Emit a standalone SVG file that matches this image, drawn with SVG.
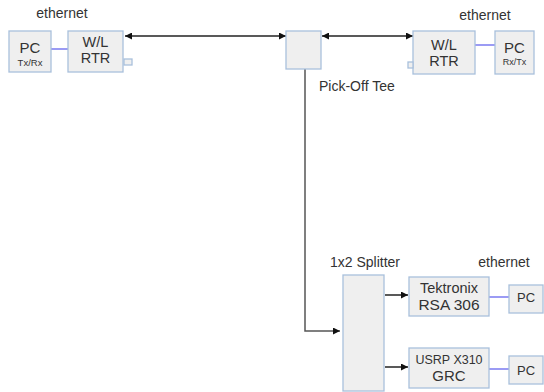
<svg xmlns="http://www.w3.org/2000/svg" width="544" height="392" viewBox="0 0 544 392">
<style>
.box{fill:#efefef;stroke:#a9c0dc;stroke-width:1.3}
.t{font-family:"Liberation Sans",Arial,sans-serif;fill:#333;text-anchor:middle}
.lbl{font-family:"Liberation Sans",Arial,sans-serif;fill:#333;font-size:14px}
.eth{stroke:#7a7af0;stroke-width:1.5;fill:none}
.wire{stroke:#222;stroke-width:1.5;fill:none}
.gray{stroke:#555;stroke-width:1.5;fill:none}
</style>
<defs>
<marker id="ah" viewBox="0 0 10 10" refX="10" refY="5" markerWidth="9" markerHeight="7" markerUnits="userSpaceOnUse" orient="auto-start-reverse">
<path d="M0,0 L10,5 L0,10 z" fill="#111"/>
</marker>
</defs>
<g id="connectors">
<line class="wire" x1="125" y1="36" x2="286" y2="36" marker-start="url(#ah)" marker-end="url(#ah)"/>
<line class="wire" x1="322" y1="36" x2="413" y2="36" marker-start="url(#ah)" marker-end="url(#ah)"/>
<polyline class="gray" points="305,69 305,331 340,331" marker-end="url(#ah)"/>
<line class="wire" x1="385" y1="295" x2="408" y2="295" marker-end="url(#ah)"/>
<line class="wire" x1="385" y1="367" x2="408" y2="367" marker-end="url(#ah)"/>
<line class="eth" x1="51" y1="49" x2="68" y2="49"/>
<line class="eth" x1="475" y1="45" x2="495" y2="45"/>
<line class="eth" x1="489" y1="297" x2="509" y2="297"/>
<line class="eth" x1="489" y1="369" x2="509" y2="369"/>
</g>
<g id="pc-left">
<rect class="box" x="9" y="31" width="42" height="41"/>
<text class="t" x="30" y="53" font-size="15">PC</text>
<text class="t" x="30" y="66" font-size="9.5">Tx/Rx</text>
</g>
<text class="lbl" x="62" y="18" text-anchor="middle">ethernet</text>
<g id="rtr-left">
<rect class="box" x="68" y="31" width="55" height="41"/>
<text class="t" x="95.5" y="47" font-size="14.5">W/L</text>
<text class="t" x="95.5" y="63" font-size="14.5">RTR</text>
<rect class="box" x="124" y="59" width="8" height="6" fill="#fff"/>
</g>
<g id="tee">
<rect class="box" x="286" y="31" width="35" height="38"/>
<text class="lbl" x="319" y="91" font-size="14.5">Pick-Off Tee</text>
</g>
<g id="rtr-right">
<rect class="box" x="413" y="31" width="62" height="43"/>
<text class="t" x="444" y="50" font-size="14.5">W/L</text>
<text class="t" x="444" y="66" font-size="14.5">RTR</text>
<rect class="box" x="408" y="62" width="5" height="6"/>
</g>
<text class="lbl" x="485" y="20" text-anchor="middle">ethernet</text>
<g id="pc-right">
<rect class="box" x="495" y="31" width="39" height="43"/>
<text class="t" x="514.5" y="53" font-size="15">PC</text>
<text class="t" x="514.5" y="65" font-size="9">Rx/Tx</text>
</g>
<g id="splitter">
<rect class="box" x="343" y="275" width="41" height="116"/>
<text class="lbl" x="330" y="267" font-size="14.5">1x2 Splitter</text>
</g>
<text class="lbl" x="504" y="267" text-anchor="middle">ethernet</text>
<g id="tektronix">
<rect class="box" x="409" y="277" width="80" height="39"/>
<text class="t" x="449" y="293" font-size="14.5">Tektronix</text>
<text class="t" x="449" y="310" font-size="15.5">RSA 306</text>
</g>
<g id="pc-tek">
<rect class="box" x="509" y="285" width="34" height="28"/>
<text class="t" x="526" y="302" font-size="13">PC</text>
</g>
<g id="usrp">
<rect class="box" x="409" y="348" width="80" height="40"/>
<text class="t" x="449" y="364" font-size="12.5">USRP X310</text>
<text class="t" x="449" y="381" font-size="15">GRC</text>
</g>
<g id="pc-usrp">
<rect class="box" x="509" y="356" width="34" height="28"/>
<text class="t" x="526" y="375" font-size="13">PC</text>
</g>
</svg>
